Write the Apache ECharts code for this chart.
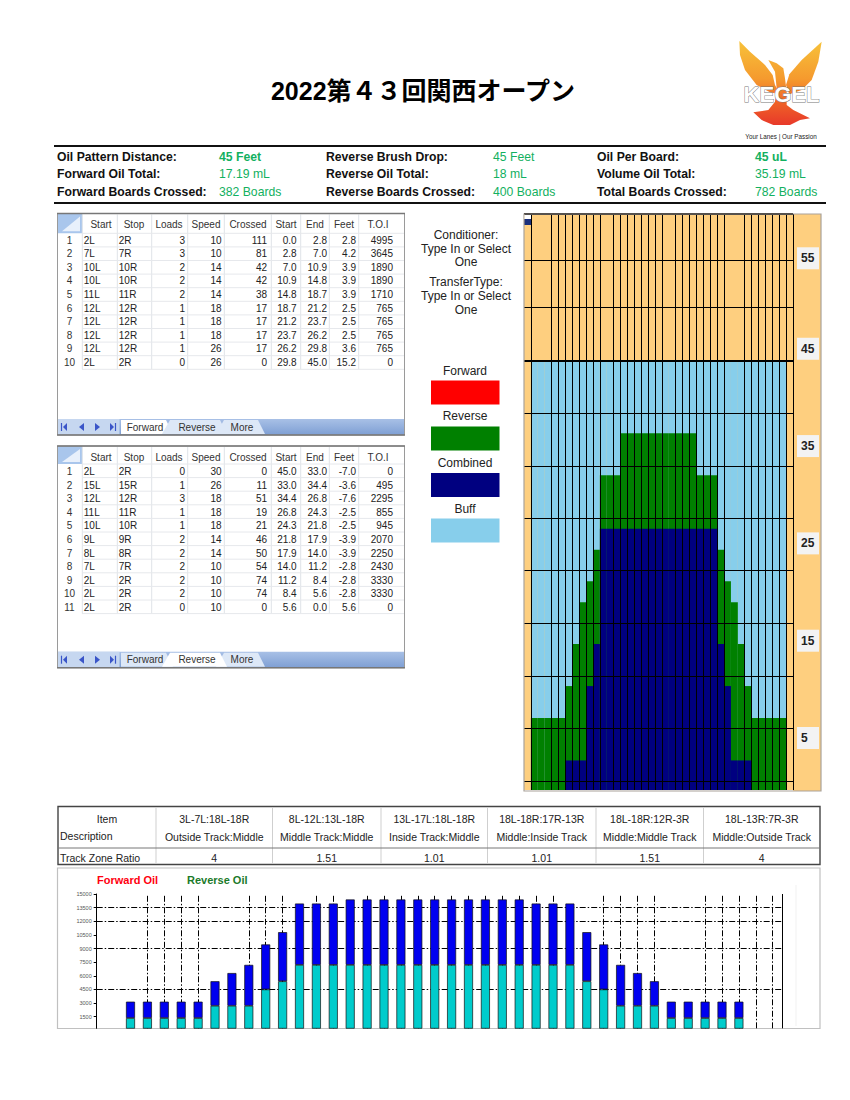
<!DOCTYPE html>
<html><head><meta charset="utf-8">
<style>html,body{margin:0;padding:0;background:#fff}#c{width:850px;height:1100px}</style>
<script src="https://cdn.jsdelivr.net/npm/echarts@6/dist/echarts.min.js"></script>
</head><body><div id="c"></div>
<script>
// ---------- DATA ----------
const titleText = '2022第４３回関西オープン';
const summaryLabels = [
  ['Oil Pattern Distance:','Forward Oil Total:','Forward Boards Crossed:'],
  ['Reverse Brush Drop:','Reverse Oil Total:','Reverse Boards Crossed:'],
  ['Oil Per Board:','Volume Oil Total:','Total Boards Crossed:']];
const summaryValues = [
  ['45 Feet','17.19 mL','382 Boards'],
  ['45 Feet','18 mL','400 Boards'],
  ['45 uL','35.19 mL','782 Boards']];
const tableHeader = ['Start','Stop','Loads','Speed','Crossed','Start','End','Feet','T.O.I'];
const forwardRows = [
  ['2L','2R',3,10,111,'0.0','2.8','2.8',4995],
  ['7L','7R',3,10,81,'2.8','7.0','4.2',3645],
  ['10L','10R',2,14,42,'7.0','10.9','3.9',1890],
  ['10L','10R',2,14,42,'10.9','14.8','3.9',1890],
  ['11L','11R',2,14,38,'14.8','18.7','3.9',1710],
  ['12L','12R',1,18,17,'18.7','21.2','2.5',765],
  ['12L','12R',1,18,17,'21.2','23.7','2.5',765],
  ['12L','12R',1,18,17,'23.7','26.2','2.5',765],
  ['12L','12R',1,26,17,'26.2','29.8','3.6',765],
  ['2L','2R',0,26,0,'29.8','45.0','15.2',0]];
const reverseRows = [
  ['2L','2R',0,30,0,'45.0','33.0','-7.0',0],
  ['15L','15R',1,26,11,'33.0','34.4','-3.6',495],
  ['12L','12R',3,18,51,'34.4','26.8','-7.6',2295],
  ['11L','11R',1,18,19,'26.8','24.3','-2.5',855],
  ['10L','10R',1,18,21,'24.3','21.8','-2.5',945],
  ['9L','9R',2,14,46,'21.8','17.9','-3.9',2070],
  ['8L','8R',2,14,50,'17.9','14.0','-3.9',2250],
  ['7L','7R',2,10,54,'14.0','11.2','-2.8',2430],
  ['2L','2R',2,10,74,'11.2','8.4','-2.8',3330],
  ['2L','2R',2,10,74,'8.4','5.6','-2.8',3330],
  ['2L','2R',0,10,0,'5.6','0.0','5.6',0]];
const sideNotes = ['Conditioner:','Type In or Select','One','TransferType:','Type In or Select','One'];
const legendNames = ['Forward','Reverse','Combined','Buff'];
const zoneHead1 = ['3L-7L:18L-18R','8L-12L:13L-18R','13L-17L:18L-18R','18L-18R:17R-13R','18L-18R:12R-3R','18L-13R:7R-3R'];
const zoneHead2 = ['Outside Track:Middle','Middle Track:Middle','Inside Track:Middle','Middle:Inside Track','Middle:Middle Track','Middle:Outside Track'];
const zoneRatio = ['4','1.51','1.01','1.01','1.51','4'];

// oil map: one column per board (gutter columns have no value), length in feet
const mapColumns = ['g1',1,2,3,4,5,6,7,8,9,10,11,12,13,14,15,16,17,18,19,20,21,22,23,24,25,26,27,28,29,30,31,32,33,34,35,36,37,'g2'];
const mapBuff = [null,45,45,45,45,45,45,45,45,45,45,45,45,45,45,45,45,45,45,45,45,45,45,45,45,45,45,45,45,45,45,45,45,45,45,45,45,45,null];
const mapReverse = [null,7.55,7.55,7.55,7.55,7.55,10.9,15.3,19.7,21.9,25.2,33,33,33,37.4,37.4,37.4,37.4,37.4,37.4,37.4,37.4,37.4,37.4,37.4,33,33,33,25.2,21.9,19.7,15.3,10.9,7.55,7.55,7.55,7.55,7.55,null];
const mapCombined = [null,0,0,0,0,0,3.1,3.1,3.1,10.9,15.3,27.4,27.4,27.4,27.4,27.4,27.4,27.4,27.4,27.4,27.4,27.4,27.4,27.4,27.4,27.4,27.4,27.4,15.3,10.9,3.1,3.1,3.1,0,0,0,0,0,null];
const mapColLines = [1,4,5,6,7,8,9,10,11,13,14,15,16,17,18,19,20,22,23,24,25,26,27,28,29,32,33,34,35,36,37,38,39];
const mapRowLines = [0.94,6.5,11.96,17.5,23,28.5,34,39.5,50.6,55.5];
const mapHeavyLines = [45,60.4];
const mapLabels = [5,15,25,35,45,54.3];

// oil volume per board
const oilCategories = [0,1,2,3,4,5,6,7,8,9,10,11,12,13,14,15,16,17,18,19,20,21,22,23,24,25,26,27,28,29,30,31,32,33,34,35,36,37,38,39,40,41];
const forwardOil = [null,null,1350,1350,1350,1350,1350,2700,2700,2700,4500,5400,7200,7200,7200,7200,7200,7200,7200,7200,7200,7200,7200,7200,7200,7200,7200,7200,7200,5400,4500,2700,2700,2700,1350,1350,1350,1350,1350,null,null,null];
const reverseOil = [null,null,1800,1800,1800,1800,1800,2700,3600,4500,4950,5400,6750,6750,6750,7200,7200,7200,7200,7200,7200,7200,7200,7200,7200,7200,6750,6750,6750,5400,4950,4500,3600,2700,1800,1800,1800,1800,1800,null,null,null];
const oilTicks = [1500,3000,4500,6000,7500,9000,10500,12000,13500,15000];
const oilRowLines = [4500,9000,12000,13500];
const oilColLines = [3,4,5,6,9,10,11,13,14,16,17,18,19,20,21,22,23,24,25,26,27,30,31,32,33,36,37,38,39,40];
const oilRightEdge = 40.55;

// ---------- DRAW HELPERS ----------
const SANS = '"Liberation Sans", Arial, sans-serif';
const g = [];
function txt(x,y,text,o){o=o||{};g.push({type:'text',silent:true,z:o.z||20,style:{x,y,text:String(text),fontFamily:o.family||SANS,fontSize:o.size||10,fontWeight:o.weight||'normal',fill:o.fill||'#222',align:o.align||'left',verticalAlign:'middle'}});}
function rect(x,y,w,h,fill,stroke,lw,z){g.push({type:'rect',silent:true,z:z==null?1:z,shape:{x,y,width:w,height:h},style:{fill:fill||'none',stroke:stroke||'none',lineWidth:lw||1}});}
function seg(x1,y1,x2,y2,c,lw,z){g.push({type:'line',silent:true,z:z==null?2:z,shape:{x1,y1,x2,y2},style:{stroke:c,lineWidth:lw||1}});}
function poly(pts,fill,z){g.push({type:'polygon',silent:true,z:z==null?2:z,shape:{points:pts},style:{fill}});}

// title + summary
txt(423,91,titleText,{size:25,weight:'bold',align:'center',fill:'#000',family:'"Liberation Sans","Noto Sans CJK JP",sans-serif'});
seg(54,146,826,146,'#111',2); seg(54,203,826,203,'#111',2);
const lblX=[57,326,597], valX=[219,493,755], rowY=[157,174,191.5];
summaryLabels.forEach((col,c)=>col.forEach((t,r)=>{
  txt(lblX[c],rowY[r],t,{size:12.2,weight:'bold',fill:'#111'});
  txt(valX[c],rowY[r],summaryValues[c][r],{size:12.2,fill:'#12b060',weight:(r===0&&c!==1)?'bold':'normal'});
}));

// logo
const lx=z=>730+z/3, ly=z=>35+z/3, lp=a=>a.map(p=>[lx(p[0]),ly(p[1])]);
const flame={type:'linear',global:true,x:0,y:ly(18),x2:0,y2:ly(270),colorStops:[{offset:0,color:'#f7c23a'},{offset:.45,color:'#f59a2e'},{offset:.75,color:'#ee5f27'},{offset:1,color:'#e8392a'}]};
poly(lp([[28,18],[60,50],[105,90],[128,120],[135,150],[150,178],[120,172],[80,150],[45,105],[30,60]]),flame);
poly(lp([[275,20],[265,80],[245,135],[215,165],[178,178],[168,150],[178,118],[215,75]]),flame);
poly(lp([[115,75],[140,85],[160,100],[165,130],[170,170],[170,210],[190,225],[240,250],[210,255],[180,270],[130,270],[95,255],[70,232],[115,225],[135,200],[140,160],[135,110]]),flame);
g.push({type:'text',silent:true,z:6,style:{x:781.5,y:94,text:'KEGEL',fontFamily:SANS,fontSize:22,fontWeight:'bold',fill:'#fff',stroke:'#777',lineWidth:.9,align:'center',verticalAlign:'middle'}});
txt(781,136.5,'Your Lanes | Our Passion',{size:6.3,align:'center',fill:'#222'});

// sheets
const colX=[82.3,117.3,151.7,187.7,224.3,271.3,300.7,329.3,358.7,404.3];
const numRight=[185,221.7,267,296.7,327,356,393];
const headCenter=[101,134,169,206,248,286,315,344,378];
function sheet(top,bottom,hdrBottom,rowTop,rows,active){
  rect(57.5,top,347,bottom-top,'#fff',null,0,0);
  const barTop=bottom-16;
  rect(57.5,top,24.8,hdrBottom-top,'#a9c6ec');
  poly([[80,top+3],[80,hdrBottom-2],[62,hdrBottom-2]],'#e8f0fb');
  colX.slice(0,-1).forEach(x=>seg(x,top+1,x,hdrBottom+rows.length*13.6,'#dfe3e8',1));
  for(let i=0;i<=rows.length;i++) seg(82,hdrBottom+i*13.6,404,hdrBottom+i*13.6,'#e6e8ec',1);
  tableHeader.forEach((h,i)=>txt(headCenter[i],top+11,h,{align:'center',size:10,fill:'#333'}));
  rows.forEach((r,ri)=>{
    const y=rowTop+ri*13.6;
    txt(69.5,y,ri+1,{align:'center',size:10,fill:'#333'});
    r.forEach((v,i)=>{
      if(i<2) txt(colX[i]+1.5,y,v,{size:10,fill:'#222'});
      else txt(numRight[i-2],y,v,{size:10,align:'right',fill:'#222'});
    });
  });
  g.push({type:'rect',silent:true,z:1,shape:{x:57.5,y:barTop,width:347,height:16},style:{fill:{type:'linear',x:0,y:0,x2:0,y2:1,colorStops:[{offset:0,color:'#a8c0e6'},{offset:1,color:'#7e9fd4'}]}}});
  rect(57.5,barTop,62,16,'#c6d7f0');
  [[64,1],[82,-1],[97,1],[113,1]].forEach(([x,d],i)=>{
    const c='#3a55c8';
    if(d<0) poly([[x-3,barTop+8],[x+2,barTop+4],[x+2,barTop+12]],c);
    else if(i===2) poly([[x+3,barTop+8],[x-2,barTop+4],[x-2,barTop+12]],c);
    else if(i===0){ poly([[x-1,barTop+8],[x+3,barTop+4],[x+3,barTop+12]],c); seg(x-2.5,barTop+4,x-2.5,barTop+12,c,1.2);} 
    else { poly([[x+1,barTop+8],[x-3,barTop+4],[x-3,barTop+12]],c); seg(x+2.5,barTop+4,x+2.5,barTop+12,c,1.2);} 
  });
  const tabs=[['Forward',121,168,145],['Reverse',168,222,197],['More',222,260,242]];
  tabs.forEach((t,i)=>{
    const on=t[0]===active;
    poly([[t[1]-(i?6:0),bottom-1],[t[1]+(i?2:0),barTop+1],[t[2]-2,barTop+1],[t[2]+5,bottom-1]],on?'#fff':'#dde8f7',i===1&&active==='Reverse'?4:3);
    txt(t[3],barTop+8,t[0],{align:'center',size:10,fill:'#333',z:21});
  });
  rect(57.5,top,347,bottom-top,null,'#9a9a9a',1,5);
  seg(57,top,405,top,'#777',1.5,5);
  seg(57,bottom,405,bottom,'#777',1.5,5);
}
sheet(213.5,435,233.3,240,forwardRows,'Forward');
sheet(446,667.7,464,471.5,reverseRows,'Reverse');

// notes + legend swatches
const noteY=[235,249,262,282,296,310];
sideNotes.forEach((t,i)=>txt(466,noteY[i],t,{size:12,align:'center',fill:'#222'}));
const legY=[370.5,416,463,508.5], swY=[380.5,426.5,473,518.5], swC=['#ff0000','#008000','#000080','#87ceeb'];
legendNames.forEach((t,i)=>{txt(465,legY[i],t,{size:12,align:'center',fill:'#222'}); rect(431,swY[i],68.5,24,swC[i]);});

// map surround
rect(793,214,28,577,'#fecf7f',null,0,0);
rect(524,214,297,577,null,'#a9a29a',1.2,8);
rect(524.5,215,6.5,4,'#ffffff',null,0,9); rect(524.5,219,6.5,6,'#1a2f7c',null,0,9);

// zone table
const zx=[58,156,272.5,381,487.5,596,703.5,820];
rect(58,806.5,762,58,'#fff','#444',1.4,1);
zx.slice(1,-1).forEach(x=>seg(x,807,x,864,'#cfcfcf',1));
seg(58,848,820,848,'#777',1);
txt(107,819,'Item',{align:'center',size:10.5});
txt(60,836,'Description',{size:10.5});
txt(60,858,'Track Zone Ratio',{size:10.5});
zoneHead1.forEach((t,i)=>{
  const c=(zx[i+1]+zx[i+2])/2;
  txt(c,819,t,{align:'center',size:10.5});
  txt(c,837,zoneHead2[i],{align:'center',size:10.5});
  txt(c,858,zoneRatio[i],{align:'center',size:10.5});
});

// oil chart frame + legend
rect(57.5,868,762.5,160.5,'#fff','#c0c0c0',1.2,0);
seg(796,885,796,1026,'#f1f1f1',1,1);
txt(97,880,'Forward Oil',{size:11,weight:'bold',fill:'#ff0010'});
txt(187,880,'Reverse Oil',{size:11,weight:'bold',fill:'#1b7a2a'});

// ---------- CHART ----------
const vLine=v=>({xAxis:v}), hLine=v=>({yAxis:v});
const ddot=[6,2,1.5,2];
const option={
  animation:false,
  backgroundColor:'transparent',
  grid:[
    {left:524,top:214,width:269,height:576,show:true,backgroundColor:'#fecf7f',borderWidth:0},
    {left:96.7,top:894,width:692.9,height:134.3,show:false}
  ],
  xAxis:[
    {gridIndex:0,type:'category',data:mapColumns,show:false},
    {gridIndex:0,type:'value',min:0,max:39,show:false},
    {gridIndex:1,type:'category',data:oilCategories,boundaryGap:false,show:false},
    {gridIndex:1,type:'value',min:0,max:41,show:false}
  ],
  yAxis:[
    {gridIndex:0,type:'value',min:0,max:60.4,show:false},
    {gridIndex:0,type:'value',position:'right',min:-0.344,max:58.85,axisLine:{show:false},axisTick:{show:false},splitLine:{show:false},
     axisLabel:{customValues:mapLabels,formatter:v=>String(Math.ceil(v/5-1e-6)*5),margin:4,fontFamily:SANS,fontSize:12,fontWeight:'bold',color:'#222',backgroundColor:'#f3f3f3',width:14,align:'left',padding:[5,4,5,4]}},
    {gridIndex:1,type:'value',min:220,max:15000,
     axisLine:{show:true,lineStyle:{color:'#000',width:1}},
     axisTick:{show:true,length:3,customValues:oilTicks,lineStyle:{color:'#000'}},
     axisLabel:{customValues:oilTicks,formatter:v=>String(v),fontSize:5.5,color:'#555',fontFamily:SANS,margin:5},
     splitLine:{show:false}}
  ],
  series:[
    {type:'bar',name:'Buff',xAxisIndex:0,yAxisIndex:0,data:mapBuff,barWidth:'100%',barGap:'-100%',itemStyle:{color:'#87ceeb'},silent:true,z:2},
    {type:'bar',name:'Reverse',xAxisIndex:0,yAxisIndex:0,data:mapReverse,barWidth:'100%',barGap:'-100%',itemStyle:{color:'#008000'},silent:true,z:3},
    {type:'bar',name:'Combined',xAxisIndex:0,yAxisIndex:0,data:mapCombined,barWidth:'100%',barGap:'-100%',itemStyle:{color:'#000080'},silent:true,z:4},
    {type:'line',name:'mapLines',xAxisIndex:1,yAxisIndex:0,data:[[0,0]],showSymbol:false,lineStyle:{opacity:0},silent:true,z:5,
     markLine:{silent:true,symbol:'none',label:{show:false},animation:false,z:6,lineStyle:{color:'#000',width:1,type:'solid'},
       data:mapColLines.map(vLine).concat(mapRowLines.map(hLine)).concat(mapHeavyLines.map(v=>({yAxis:v,lineStyle:{color:'#000',width:2,type:'solid'}})))}},
    {type:'line',name:'axisLabels',xAxisIndex:1,yAxisIndex:1,data:[],silent:true},
    {type:'line',name:'oilLines',xAxisIndex:3,yAxisIndex:2,data:[[0,220]],showSymbol:false,lineStyle:{opacity:0},silent:true,z:1,
     markLine:{silent:true,symbol:'none',label:{show:false},animation:false,z:1,lineStyle:{color:'#000',width:1,type:ddot},
       data:oilColLines.map(vLine).concat(oilRowLines.map(v=>[{coord:[0,v]},{coord:[oilRightEdge,v]}])).concat([{xAxis:oilRightEdge,lineStyle:{color:'#000',width:1,type:'solid'}}])}},
    {type:'bar',name:'Forward Oil',xAxisIndex:2,yAxisIndex:2,stack:'oil',barWidth:9,silent:true,z:3,
     data:forwardOil,itemStyle:{color:'#00cccc',borderColor:'#111',borderWidth:.7}},
    {type:'bar',name:'Reverse Oil',xAxisIndex:2,yAxisIndex:2,stack:'oil',barWidth:9,silent:true,z:3,
     data:reverseOil,itemStyle:{color:'#0000f0',borderColor:'#111',borderWidth:.7}}
  ],
  graphic:{elements:g}
};
const chart=echarts.init(document.getElementById('c'),null,{renderer:'svg',width:850,height:1100});
chart.setOption(option);
</script></body></html>
